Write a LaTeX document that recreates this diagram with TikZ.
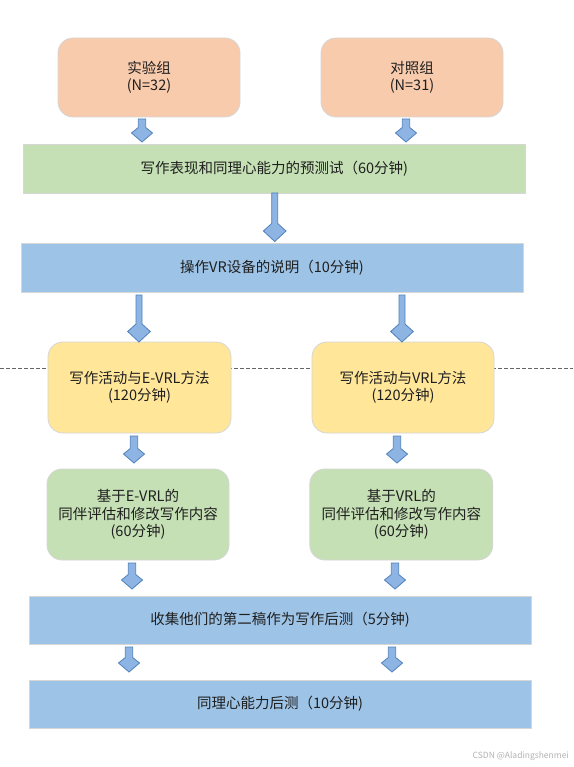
\documentclass[tikz,border=0pt]{standalone}
\usepackage{fontspec}
\newfontfamily\cjk{Noto Sans CJK SC}
\definecolor{peach}{HTML}{F8CBAD}
\definecolor{lgreen}{HTML}{C5E0B4}
\definecolor{lblue}{HTML}{9DC3E6}
\definecolor{lyellow}{HTML}{FFE699}
\definecolor{bordergray}{HTML}{D6D6D6}
\definecolor{arrfill}{HTML}{8EB4E3}
\definecolor{arrline}{HTML}{4F81BD}
\definecolor{txt}{HTML}{1F1F1F}
% x, top, bottom, shaft half width, head half width, junction depth, widest depth
\newcommand\blkarrow[7]{%
  \draw[blkarr] ({#1-#4},#2) -- ({#1-#4},{#3-#6}) -- ({#1-#5},{#3-#7}) -- (#1,#3)
    -- ({#1+#5},{#3-#7}) -- ({#1+#4},{#3-#6}) -- ({#1+#4},#2) -- cycle;}
\newcommand\longarrow[3]{\blkarrow{#1}{#2}{#3}{3}{11.3}{18}{10.5}}
\newcommand\shortarrow[3]{\blkarrow{#1}{#2}{#3}{3.7}{10.5}{14.5}{9}}
\begin{document}
\begin{tikzpicture}[x=1pt,y=-1pt,
  box/.style={draw=bordergray, line width=0.8pt, align=center, font=\cjk\fontsize{14.5}{17.5}\selectfont, text=txt, inner sep=0pt},
  rbox/.style={box, rounded corners=15pt},
  blkarr/.style={draw=arrline, fill=arrfill, line width=0.8pt, line join=miter}]
\useasboundingbox (0,0) rectangle (573,767);
\fill[white] (0,0) rectangle (573,767);
% dashed divider
\coordinate (dl) at (0,368);
\coordinate (dr) at (573,368);
\draw[gray!80!black, dashed, dash pattern=on 3.5pt off 2.5pt, line width=0.8pt] (dl) -- (dr);
% nodes
\node[rbox, fill=peach, minimum width=182pt, minimum height=79pt] (exp) at (149,77.5) {实验组\\(N=32)};
\node[rbox, fill=peach, minimum width=182pt, minimum height=79pt] (ctl) at (412,77.5) {对照组\\(N=31)};
\node[box, fill=lgreen, minimum width=502pt, minimum height=49pt] (pre) at (274.3,168.5) {写作表现和同理心能力的预测试（60分钟)};
\node[box, fill=lblue, minimum width=502pt, minimum height=49pt] (ins) at (272,267.5) {操作VR设备的说明（10分钟)};
\node[rbox, fill=lyellow, minimum width=183pt, minimum height=91pt] (wa) at (139.5,387.5) {写作活动与E-VRL方法\\(120分钟)};
\node[rbox, fill=lyellow, minimum width=182pt, minimum height=91pt] (wb) at (403,387.5) {写作活动与VRL方法\\(120分钟)};
\node[rbox, fill=lgreen, minimum width=182pt, minimum height=91pt] (pa) at (138,514.5) {基于E-VRL的\\同伴评估和修改写作内容\\(60分钟)};
\node[rbox, fill=lgreen, minimum width=183pt, minimum height=91pt] (pb) at (401.3,514.5) {基于VRL的\\同伴评估和修改写作内容\\(60分钟)};
\node[box, fill=lblue, minimum width=502pt, minimum height=48pt] (col) at (280,620) {收集他们的第二稿作为写作后测（5分钟)};
\node[box, fill=lblue, minimum width=502pt, minimum height=48pt] (emp) at (280,704) {同理心能力后测（10分钟)};
% block arrows
\shortarrow{142}{119}{142}
\shortarrow{406}{119}{142}
\longarrow{274.7}{193}{241.5}
\longarrow{139}{295}{342}
\longarrow{402}{295}{342}
\shortarrow{134}{436}{463}
\shortarrow{397}{436}{463}
\shortarrow{132}{563}{589}
\shortarrow{395}{563}{589}
\shortarrow{129}{647}{672}
\shortarrow{392}{647}{672}
% watermark
\node[anchor=east, font=\cjk\fontsize{8.5}{10}\selectfont, text=gray!60, inner sep=0pt] (wm) at (569,756) {CSDN @Aladingshenmei};
\end{tikzpicture}
\end{document}
